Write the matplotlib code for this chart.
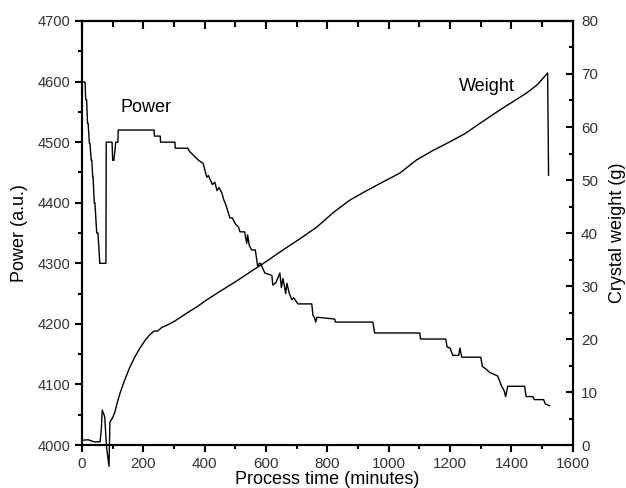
"""Power and crystal weight versus process time."""

import matplotlib

matplotlib.use("Agg")
import matplotlib.pyplot as plt
from matplotlib.ticker import MultipleLocator, NullFormatter

plt.rcParams["font.family"] = ["Liberation Sans", "DejaVu Sans"]

# Power trace (a.u.)
power_time = [
    0, 0, 5, 10, 12, 15, 18, 20, 24, 26, 30, 32, 35, 36, 40, 42, 48, 52, 58, 60,
    78, 79, 87, 98, 100, 104, 110, 117, 118, 124, 235, 236, 255, 256, 303, 304,
    345, 350, 360, 374, 380, 395, 400, 407, 412, 418, 425, 433, 440, 447, 456,
    462, 470, 482, 490, 500, 510, 515, 530, 537, 540, 545, 553, 565, 573, 578,
    582, 596, 619, 622, 632, 645, 650, 655, 660, 664, 668, 676, 684, 690, 704,
    749, 753, 758, 762, 766, 824, 826, 948, 954, 1101, 1104, 1186, 1190, 1200,
    1209, 1228, 1232, 1238, 1242, 1300, 1305, 1318, 1329, 1342, 1355, 1362,
    1368, 1376, 1381, 1388, 1443, 1448, 1470, 1475, 1505, 1510, 1524,
]
power_vals = [
    4650, 4600, 4599, 4599, 4570, 4570, 4531, 4531, 4498, 4498, 4470, 4470,
    4442, 4442, 4400, 4400, 4350, 4350, 4300, 4300,
    4300, 4500, 4500, 4500, 4470, 4470, 4500, 4500, 4520, 4520, 4520, 4510,
    4510, 4500, 4500, 4490,
    4490, 4485, 4480, 4473, 4470, 4465, 4455, 4442, 4445, 4438, 4430, 4434,
    4420, 4425, 4416,
    4405, 4395, 4375, 4375, 4365, 4360, 4352, 4352, 4333, 4347, 4330, 4322,
    4322, 4294, 4300,
    4300, 4284, 4280, 4264, 4268, 4284, 4260, 4275, 4262, 4250, 4267, 4250,
    4240, 4243, 4233,
    4233, 4214, 4210, 4203, 4211, 4208, 4203, 4203, 4185, 4185, 4175, 4175,
    4162, 4160,
    4148, 4148, 4160, 4145, 4145, 4145, 4130, 4125, 4120, 4117, 4114, 4105,
    4097, 4090, 4080, 4097, 4097, 4080, 4080, 4075, 4075, 4068, 4065,
]

# Crystal weight (g)
weight_time = [
    0, 20, 40, 59, 63, 66, 70, 74, 80, 88, 91, 100, 107, 115, 124, 140, 156,
    172, 189, 205, 221, 235, 247, 260, 277, 300, 342, 375, 407, 450, 500, 547,
    600, 655, 710, 765, 820, 873, 925, 980, 1036, 1091, 1145, 1199, 1250,
    1300, 1362, 1400, 1449, 1485, 1518, 1521,
]
weight_vals = [
    0.9, 1.0, 0.6, 0.6, 3.0, 6.6, 6.0, 5.3, -0.4, -4.0, 4.3, 5.2, 6.2, 8.0,
    9.8, 12.4, 14.7, 16.6, 18.3, 19.7, 20.8, 21.5, 21.5, 22.2, 22.6, 23.3,
    24.9, 26.1, 27.4, 29.0, 30.8, 32.6, 34.6, 36.8, 38.9, 41.1, 43.9, 46.2,
    47.9, 49.6, 51.3, 53.8, 55.6, 57.2, 58.8, 60.8, 63.2, 64.6, 66.4, 68.0,
    70.2, 50.9,
]

fig = plt.figure(figsize=(6.26, 4.88), dpi=100)
ax = fig.add_axes([0.131, 0.088, 0.784, 0.869])
ax2 = ax.twinx()

ax.plot(power_time, power_vals, color="black", lw=1.0, clip_on=False)
ax2.plot(weight_time, weight_vals, color="black", lw=1.0, clip_on=False)

ax.set_xlim(0, 1600)
ax.set_ylim(4000, 4700)
ax2.set_ylim(0, 80)

ax.xaxis.set_major_locator(MultipleLocator(200))
ax.xaxis.set_minor_locator(MultipleLocator(100))
ax.yaxis.set_major_locator(MultipleLocator(100))
ax.yaxis.set_minor_locator(MultipleLocator(50))
ax2.yaxis.set_major_locator(MultipleLocator(10))
ax2.yaxis.set_minor_locator(MultipleLocator(5))

tick_color = "#333333"
ax.tick_params(axis="x", which="both", direction="out",
               labelsize=11, labelcolor=tick_color, width=1.5)
ax.tick_params(axis="x", which="major", length=5)
ax.tick_params(axis="x", which="minor", length=3)
ax.tick_params(axis="y", which="both", direction="out",
               labelsize=10.5, labelcolor=tick_color, width=1.5)
ax.tick_params(axis="y", which="major", length=5)
ax.tick_params(axis="y", which="minor", length=3)
ax2.tick_params(axis="y", which="both", direction="in", pad=6,
                labelsize=11, labelcolor=tick_color, width=1.5)
ax2.tick_params(axis="y", which="major", length=5)
ax2.tick_params(axis="y", which="minor", length=3)

# top axis: inward ticks, no labels
top = ax.secondary_xaxis("top")
top.xaxis.set_major_locator(MultipleLocator(200))
top.xaxis.set_minor_locator(MultipleLocator(100))
top.xaxis.set_major_formatter(NullFormatter())
top.tick_params(which="both", direction="in", width=1.5)
top.tick_params(which="major", length=6)
top.tick_params(which="minor", length=4)

for a in (ax, ax2, top):
    for s in a.spines.values():
        s.set_linewidth(1.5)

ax.set_xlabel("Process time (minutes)", fontsize=13, labelpad=0)
ax.set_ylabel("Power (a.u.)", fontsize=13, labelpad=7)
ax2.set_ylabel("Crystal weight (g)", fontsize=13, labelpad=8)

ax.text(125, 4550, "Power", fontsize=13)
ax.text(1230, 4585, "Weight", fontsize=13)

fig.savefig("out.png", dpi=100)
